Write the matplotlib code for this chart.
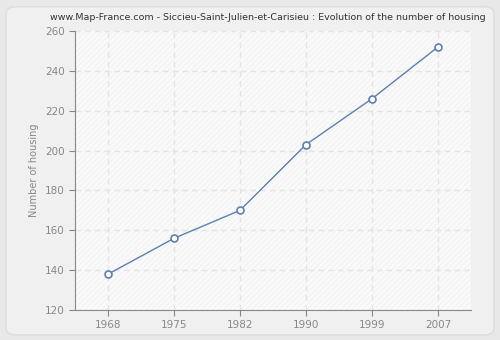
import matplotlib
matplotlib.use('Agg')
import matplotlib.pyplot as plt
from matplotlib.patches import FancyBboxPatch

years = ['1968', '1975', '1982', '1990', '1999', '2007']
housing = [138, 156, 170, 203, 226, 252]

fig = plt.figure(figsize=(5, 3.4), dpi=100)
fig.patch.set_facecolor('#e8e8e8')
# rounded light panel behind everything
panel = FancyBboxPatch((0.012, 0.015), 0.976, 0.965, boxstyle='round,pad=0,rounding_size=0.02',
                       transform=fig.transFigure, facecolor='#f0f0f0', edgecolor='#dddddd',
                       linewidth=1, zorder=-10)
fig.patches.append(panel)

ax = fig.add_axes([0.15, 0.088, 0.792, 0.821])
ax.set_facecolor('#fafafa')
ax.add_patch(plt.Rectangle((0, 0), 1, 1, transform=ax.transAxes, facecolor='none',
                           hatch='//////', edgecolor='#f3f3f3', linewidth=0, zorder=0))

x = list(range(len(years)))
ax.plot(x, housing, color='#5b80b2', linewidth=1, marker='o', markersize=5,
        markerfacecolor='white', markeredgecolor='#5b80b2', markeredgewidth=1.2, zorder=3)

ax.set_xlim(-0.5, 5.5)
ax.set_ylim(120, 260)
ax.set_xticks(x)
ax.set_xticklabels(years)
ax.set_yticks(range(120, 261, 20))
ax.grid(True, color='#e4e4e4', linestyle=(0, (4, 3)), linewidth=1)
ax.set_axisbelow(True)

for s in ['top', 'right']:
    ax.spines[s].set_visible(False)
for s in ['left', 'bottom']:
    ax.spines[s].set_color('#888888')
ax.tick_params(colors='#888888', labelcolor='#888888', labelsize=7.5, length=4)
ax.set_ylabel('Number of housing', color='#888888', fontsize=7)

fig.text(0.535, 0.95, 'www.Map-France.com - Siccieu-Saint-Julien-et-Carisieu : Evolution of the number of housing',
         ha='center', va='center', fontsize=6.8, color='#333333')

fig.savefig('out.png', dpi=100, facecolor=fig.get_facecolor())
